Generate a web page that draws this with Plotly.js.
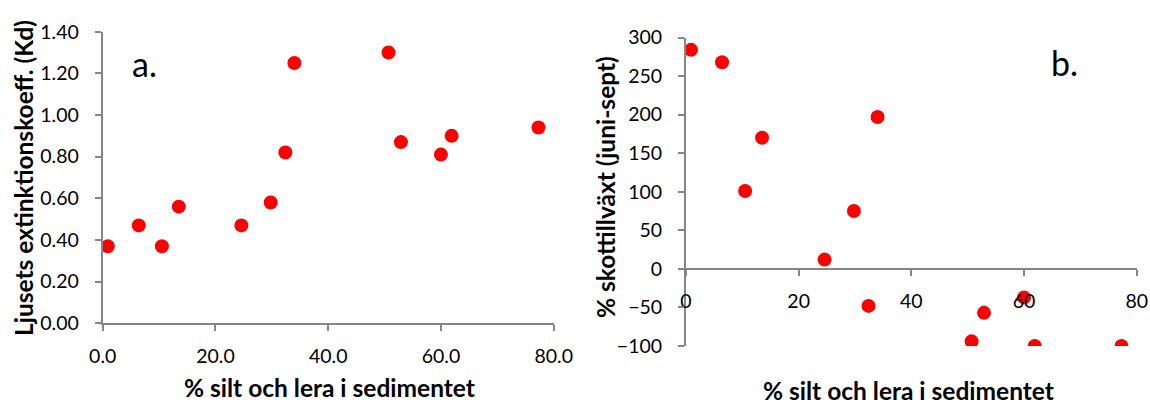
<!DOCTYPE html>
<html>
<head>
<meta charset="utf-8">
<script src="https://cdn.plot.ly/plotly-3.0.1.min.js"></script>
<style>html,body{margin:0;padding:0;background:#fff;}#chart{width:1150px;height:405px;}</style>
</head>
<body>
<div id="chart"></div>
<script>
// % silt och lera i sedimentet (same sites in both panels)
const siltLera = [0.9, 6.4, 10.5, 13.5, 24.6, 29.8, 32.4, 34.0, 50.7, 52.9, 60.0, 61.9, 77.3];
// a. Ljusets extinktionskoefficient (Kd)
const kd = [0.37, 0.47, 0.37, 0.56, 0.47, 0.58, 0.82, 1.25, 1.30, 0.87, 0.81, 0.90, 0.94];
// b. % skottillväxt (juni-sept)
const skottillvaxt = [284, 268, 101, 170, 12, 75, -48, 197, -94, -57, -37, -100, -100];

const xTicksA = [0, 20, 40, 60, 80];
const yTicksA = [0, 0.2, 0.4, 0.6, 0.8, 1.0, 1.2, 1.4];
const xTicksB = [0, 20, 40, 60, 80];
const yTicksB = [-100, -50, 0, 50, 100, 150, 200, 250, 300];

const W = 1150, H = 405;
const px = v => v / W;
const py = v => (H - v) / H;

const red = '#FF0000';
const axisGray = '#868686';
const tickFont = {family: 'Lato, "Open Sans", sans-serif', size: 19.5, color: '#000'};
const titleFont = {family: 'Lato, "Open Sans", sans-serif', size: 24.5, color: '#000', weight: 'bold'};

const marker = {color: red, size: 14, symbol: 'circle'};

const traces = [
  {x: siltLera, y: kd, type: 'scatter', mode: 'markers', marker: marker, xaxis: 'x', yaxis: 'y', hoverinfo: 'x+y'},
  {x: siltLera, y: skottillvaxt, type: 'scatter', mode: 'markers', marker: marker, xaxis: 'x2', yaxis: 'y2', hoverinfo: 'x+y'}
];

const axBase = {
  showgrid: false, zeroline: false, showline: true, linecolor: axisGray, linewidth: 2,
  ticks: 'outside', ticklen: 6, tickwidth: 2, tickcolor: axisGray, tickfont: tickFont,
  fixedrange: true
};

const layout = {
  width: W, height: H,
  margin: {l: 0, r: 0, t: 0, b: 0, pad: 0},
  paper_bgcolor: '#fff', plot_bgcolor: 'rgba(0,0,0,0)',
  showlegend: false,
  xaxis: Object.assign({}, axBase, {
    domain: [px(102.7), px(553.7)], range: [0, 80], tickvals: xTicksA, tickformat: '.1f',
    anchor: 'y', ticklabelstandoff: 8
  }),
  yaxis: Object.assign({}, axBase, {
    domain: [py(323.3), py(31.7)], range: [0, 1.4], tickvals: yTicksA, tickformat: '.2f',
    anchor: 'x', ticklabelstandoff: 12
  }),
  xaxis2: Object.assign({}, axBase, {
    domain: [px(686), px(1136.7)], range: [0, 80], tickvals: xTicksB, tickformat: 'd',
    anchor: 'free', position: py(269.3), ticklabelstandoff: 8
  }),
  yaxis2: Object.assign({}, axBase, {
    domain: [py(346), py(37.5)], range: [-100, 300], tickvals: yTicksB, tickformat: 'd',
    anchor: 'x2', ticklabelstandoff: 12
  }),
  annotations: [
    {text: 'a.', xref: 'paper', yref: 'paper', x: px(144), y: py(63), xanchor: 'center', yanchor: 'middle',
     showarrow: false, font: {family: 'Lato, sans-serif', size: 34, color: '#000'}},
    {text: 'b.', xref: 'paper', yref: 'paper', x: px(1064), y: py(62), xanchor: 'center', yanchor: 'middle',
     showarrow: false, font: {family: 'Lato, sans-serif', size: 34, color: '#000'}},
    {text: '% silt och lera i sedimentet', xref: 'paper', yref: 'paper', x: px(329), y: py(387),
     xanchor: 'center', yanchor: 'middle', showarrow: false, font: titleFont},
    {text: '% silt och lera i sedimentet', xref: 'paper', yref: 'paper', x: px(908), y: py(390),
     xanchor: 'center', yanchor: 'middle', showarrow: false, font: titleFont},
    {text: 'Ljusets extinktionskoeff. (Kd)', xref: 'paper', yref: 'paper', x: px(23), y: py(178),
     xanchor: 'center', yanchor: 'middle', textangle: -90, showarrow: false, font: titleFont},
    {text: '% skottillväxt (juni-sept)', xref: 'paper', yref: 'paper', x: px(606), y: py(187),
     xanchor: 'center', yanchor: 'middle', textangle: -90, showarrow: false, font: titleFont}
  ]
};

Plotly.newPlot('chart', traces, layout, {displayModeBar: false, staticPlot: true});
</script>
</body>
</html>
